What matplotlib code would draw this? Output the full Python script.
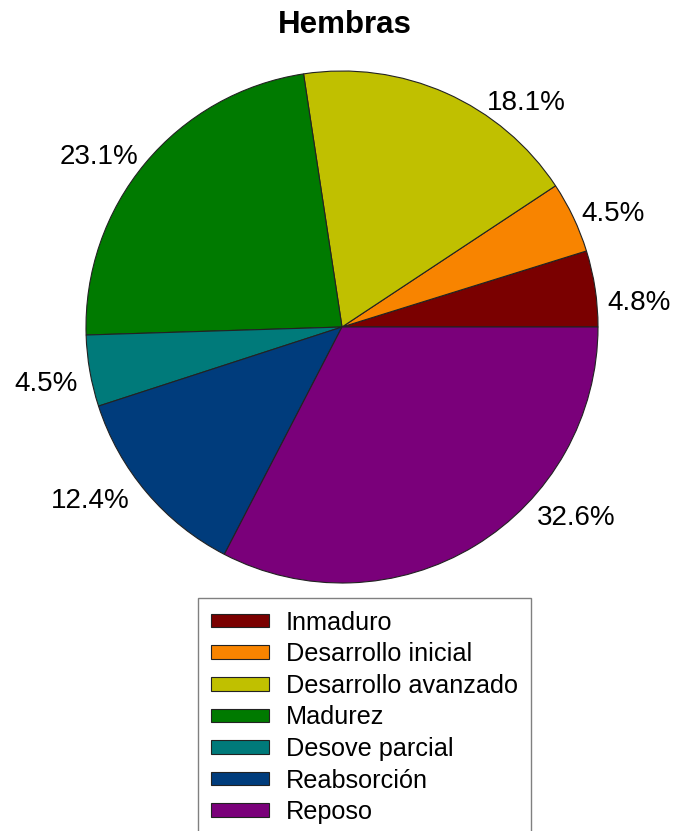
import matplotlib
matplotlib.use("Agg")
import matplotlib.pyplot as plt

plt.rcParams['font.family'] = ['Liberation Sans', 'DejaVu Sans']

categories = ["Inmaduro", "Desarrollo inicial", "Desarrollo avanzado", "Madurez",
              "Desove parcial", "Reabsorción", "Reposo"]
values = [4.8, 4.5, 18.1, 23.1, 4.5, 12.4, 32.6]
colors = ["#7a0000", "#f88400", "#c0c000", "#007a00", "#007a7a", "#003c7c", "#7a007a"]

# label anchor positions (layout, in pie-radius units) and alignment
label_pos = [(1.035, 0.094), (0.934, 0.441), (0.566, 0.875), (-0.797, 0.664),
             (-1.031, -0.223), (-0.828, -0.680), (0.762, -0.746)]
label_ha = ["left", "left", "left", "right", "right", "right", "left"]

W, H = 676, 831
fig = plt.figure(figsize=(W / 100, H / 100), dpi=100)
ax = fig.add_axes([86 / W, 1 - 583 / H, 512 / W, 512 / H])
wedges, _ = ax.pie(values, colors=colors, startangle=0, counterclock=True,
                   radius=1.0,
                   wedgeprops=dict(edgecolor="#222222", linewidth=0.8))
ax.set_xlim(-1, 1)
ax.set_ylim(-1, 1)
ax.set_aspect("equal")
ax.axis("off")

for v, (x, y), ha in zip(values, label_pos, label_ha):
    ax.text(x, y, f"{v:.1f}%", ha=ha, va="center", fontsize=20, color="black",
            clip_on=False)

fig.text(345 / W, 1 - 33 / H, "Hembras", ha="center", va="baseline",
         fontsize=22.5, fontweight="bold")

leg = fig.legend(wedges, categories, loc="upper left",
                 bbox_to_anchor=(198 / W, 1 - 598 / H), borderaxespad=0,
                 fontsize=18.2, frameon=True, fancybox=False, framealpha=1,
                 edgecolor="#808080", handlelength=2.3, handleheight=0.44,
                 handletextpad=0.68, labelspacing=0.3, borderpad=0.5)
leg.get_frame().set_linewidth(1.0)

fig.savefig("out.png", dpi=100, facecolor="white")
